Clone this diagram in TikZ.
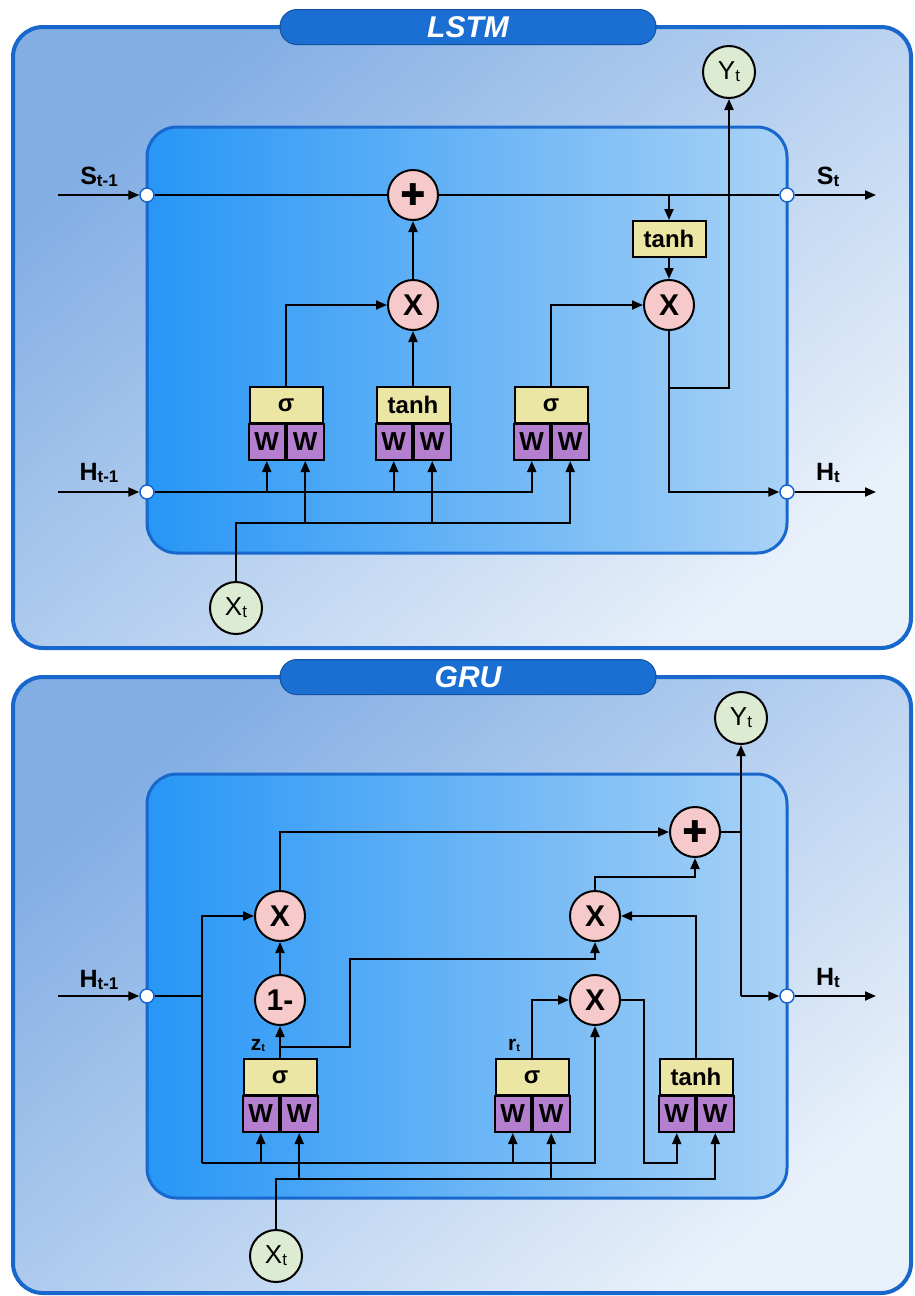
\documentclass[tikz,border=0pt]{standalone}
\usepackage{fontspec}
\setmainfont{Liberation Sans}
\newfontfamily\symfont{DejaVu Sans}
\usetikzlibrary{arrows.meta,calc}

\definecolor{outerA}{HTML}{82AEE4}
\definecolor{outerB}{HTML}{E8F0FA}
\definecolor{innerA}{HTML}{2796F6}
\definecolor{innerB}{HTML}{A9D2F6}
\definecolor{edgeblue}{HTML}{1767CC}
\definecolor{pillblue}{HTML}{1B6ED2}
\definecolor{opfill}{HTML}{F6CACA}
\definecolor{iofill}{HTML}{DDEBD3}
\definecolor{actfill}{HTML}{ECE6A4}
\definecolor{wfill}{HTML}{B57FCF}

\newcommand{\sub}[2]{#1\raisebox{-2pt}{\fontsize{17}{17}\selectfont #2}}
\newcommand{\smallsub}[2]{#1\raisebox{-1pt}{\fontsize{11}{11}\selectfont #2}}

\newcommand{\mkgate}[4]{%
  \node[actbox] (#1) at (#2,#3+18) {#4};
  \node[wbox, anchor=north east] (#1l) at (#2,#3+36) {W};
  \node[wbox, anchor=north west] (#1r) at (#2,#3+36) {W};
}

\tikzset{
  outerpanel/.style={draw=edgeblue, line width=4pt, rounded corners=30pt,
    top color=outerA, bottom color=outerB, shading angle=40},
  innerpanel/.style={draw=edgeblue, line width=3pt, rounded corners=30pt,
    left color=innerA, right color=innerB},
  pill/.style={fill=pillblue, draw=edgeblue!80!black, line width=1pt, rounded corners=17pt,
    minimum width=376pt, minimum height=35pt, text=white,
    font=\fontsize{30}{30}\selectfont\bfseries\itshape},
  port/.style={circle, fill=white, draw=edgeblue, line width=1.5pt, minimum size=14pt, inner sep=0pt},
  opnode/.style={circle, fill=opfill, draw=black, line width=2pt, minimum size=50pt, inner sep=0pt,
    font=\fontsize{30}{30}\selectfont\bfseries},
  ionode/.style={circle, fill=iofill, draw=black, line width=2pt, minimum size=52pt, inner sep=0pt,
    font=\fontsize{26}{26}\selectfont},
  actbox/.style={rectangle, fill=actfill, draw=black, line width=2pt, minimum width=73pt,
    minimum height=36pt, inner sep=0pt, font=\fontsize{24}{24}\selectfont\bfseries},
  wbox/.style={rectangle, fill=wfill, draw=black, line width=2pt, minimum width=36.5pt,
    minimum height=36pt, inner sep=0pt, font=\fontsize{26}{26}\selectfont\bfseries},
  sidelabel/.style={font=\fontsize{25}{25}\selectfont\bfseries, inner sep=0pt},
  gatelabel/.style={font=\fontsize{21}{21}\selectfont\bfseries, inner sep=0pt},
  line/.style={draw=black, line width=2pt},
  arr/.style={draw=black, line width=2pt, -{Triangle[length=11pt,width=9pt]}},
}

\begin{document}
\begin{tikzpicture}[x=1pt,y=-1pt]
\useasboundingbox[fill=white] (0,0) rectangle (914,1296);

% ================= LSTM =================
\path[outerpanel] (13,27) rectangle (911,648);
\path[innerpanel] (147,127) rectangle (787,553);
\node[pill] (lt) at (468,27) {LSTM};

\node[port] (pSl) at (147,195) {};
\node[port] (pSr) at (787,195) {};
\node[port] (pHl) at (147,492) {};
\node[port] (pHr) at (787,492) {};
\coordinate (sin) at (58,195);
\coordinate (sout) at (876,195);
\coordinate (hin) at (58,492);
\coordinate (hout) at (876,492);

\node[sidelabel] (lSa) at (99,177) {\sub{S}{t-1}};
\node[sidelabel] (lSb) at (828,177) {\sub{S}{t}};
\node[sidelabel] (lHa) at (99,473) {\sub{H}{t-1}};
\node[sidelabel] (lHb) at (828,473) {\sub{H}{t}};

\node[opnode] (plus) at (413,195) {\symfont ✚};
\node[opnode] (m1) at (413,305) {X};
\node[opnode] (m2) at (669,305) {X};
\node[actbox] (tS) at (669,239) {tanh};
\node[ionode] (yt) at (729,72) {\sub{Y}{t}};
\node[ionode] (xt) at (236,608) {\sub{X}{t}};

\mkgate{g1}{286}{387}{σ}
\mkgate{g2}{413}{387}{tanh}
\mkgate{g3}{551}{387}{σ}

\coordinate (xb) at (236,523);
\coordinate (m2j) at (729,388);

\draw[arr] (sin) -- (pSl);
\draw[line] (pSl) -- (plus);
\draw[line] (plus) -- (pSr);
\draw[arr] (pSr) -- (sout);
\draw[arr] (tS.north |- pSl) -- (tS.north);
\draw[arr] (tS) -- (m2);
\draw[arr] (m1) -- (plus);
\draw[arr] (g2) -- (m1);
\draw[arr] (g1.north) |- (m1.west);
\draw[arr] (g3.north) |- (m2.west);
\draw[arr] (m2.south) |- (pHr.west);
\draw[arr] (m2.south |- m2j) -| (yt.south);
\draw[arr] (pHr) -- (hout);

\draw[arr] (hin) -- (pHl);
\draw[arr] (pHl.east) -| (g3l.south);
\draw[arr] (g1l.south |- pHl) -- (g1l.south);
\draw[arr] (g2l.south |- pHl) -- (g2l.south);
\draw[arr] (xt.north) -- (xt.north |- xb) -| (g3r.south);
\draw[arr] (g1r.south |- xb) -- (g1r.south);
\draw[arr] (g2r.south |- xb) -- (g2r.south);

% ================= GRU =================
\path[outerpanel] (13,677) rectangle (911,1293);
\path[innerpanel] (147,774) rectangle (787,1198);
\node[pill] (gt) at (468,677) {GRU};

\node[port] (gHl) at (147,996) {};
\node[port] (gHr) at (787,996) {};
\coordinate (gin) at (58,996);
\coordinate (gout) at (876,996);
\node[sidelabel] (glHa) at (99,980) {\sub{H}{t-1}};
\node[sidelabel] (glHb) at (828,978) {\sub{H}{t}};

\node[ionode] (ytG) at (741,718) {\sub{Y}{t}};
\node[ionode] (xtG) at (276,1256) {\sub{X}{t}};
\node[opnode] (gplus) at (695,832) {\symfont ✚};
\node[opnode] (x1) at (280,916) {X};
\node[opnode] (x2) at (595,916) {X};
\node[opnode] (om) at (280,1000) {1-};
\node[opnode] (x3) at (595,1000) {X};

\mkgate{z}{280}{1059}{σ}
\mkgate{r}{532}{1059}{σ}
\mkgate{t}{696}{1059}{tanh}

\node[gatelabel] (zlab) at (258,1045) {\smallsub{z}{t}};
\node[gatelabel] (rlab) at (514,1045) {\smallsub{r}{t}};

\coordinate (ga) at (202,996);
\coordinate (gb) at (202,1163);
\coordinate (gx) at (276,1179);
\coordinate (zj) at (280,1047);

\draw[arr] (gin) -- (gHl);
\draw[line] (gHl) -- (ga);
\draw[arr] (gb) -- (ga |- x1) -- (x1);
\draw[arr] (gb) -| (x3.south);
\draw[arr] (zl.south |- gb) -- (zl.south);
\draw[arr] (rl.south |- gb) -- (rl.south);

\draw[arr] (xtG.north) -- (xtG.north |- gx) -| (tr.south);
\draw[arr] (zr.south |- gx) -- (zr.south);
\draw[arr] (rr.south |- gx) -- (rr.south);

\draw[arr] (z.north) -- (om.south);
\draw[arr] (zj) -| (350,959) -| (x2.south);
\draw[arr] (om) -- (x1);
\draw[arr] (x1.north) |- (gplus.west);
\draw[arr] (x2.north) -- ++(0,-13) -| (gplus.south);
\draw[arr] (t.north) |- (x2.east);
\draw[arr] (r.north) |- (x3.west);
\draw[arr] (x3.east) -| (644,1163) -| (tl.south);

\draw[line] (gplus.east) -- (gplus.east -| ytG.south);
\draw[arr] (ytG.south |- gHr) -- (ytG.south);
\draw[arr] (ytG.south |- gHr) -- (gHr.west);
\draw[arr] (gHr) -- (gout);
\end{tikzpicture}
\end{document}
